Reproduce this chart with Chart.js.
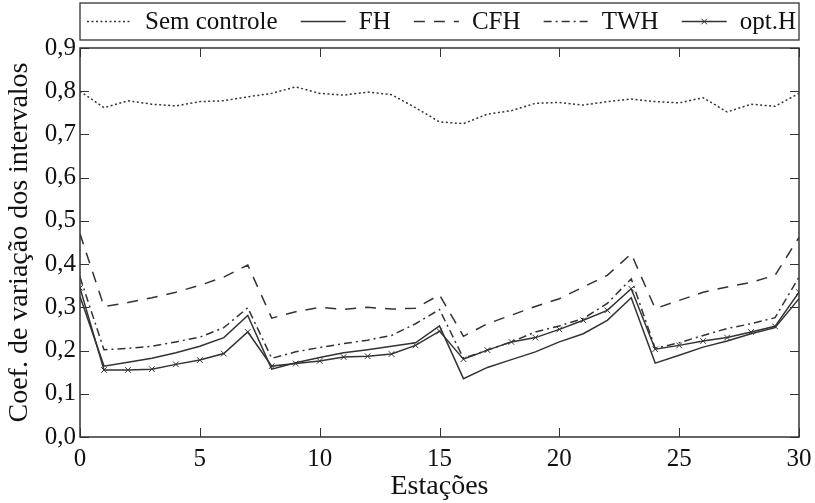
<!DOCTYPE html>
<html>
<head>
<meta charset="utf-8">
<script src="https://cdn.jsdelivr.net/npm/chart.js@4/dist/chart.umd.min.js"></script>
<style>
  html, body { margin: 0; padding: 0; background: #fff; }
  #wrap { width: 815px; height: 503px; position: relative; }
</style>
</head>
<body>
<div id="wrap"><canvas id="c" width="815" height="503"></canvas></div>
<script>
const stations = [0,1,2,3,4,5,6,7,8,9,10,11,12,13,14,15,16,17,18,19,20,21,22,23,24,25,26,27,28,29,30];
const semControle = [0.800,0.762,0.778,0.770,0.766,0.776,0.778,0.787,0.795,0.810,0.795,0.791,0.798,0.792,0.762,0.729,0.725,0.747,0.755,0.772,0.774,0.768,0.776,0.782,0.776,0.773,0.785,0.752,0.770,0.765,0.795];
const fh = [0.325,0.164,0.173,0.182,0.195,0.210,0.230,0.281,0.157,0.172,0.184,0.195,0.202,0.210,0.218,0.257,0.135,0.161,0.179,0.197,0.220,0.239,0.270,0.322,0.171,0.189,0.208,0.222,0.239,0.253,0.320];
const cfh = [0.470,0.302,0.311,0.322,0.335,0.351,0.370,0.398,0.275,0.290,0.300,0.295,0.300,0.296,0.298,0.329,0.233,0.262,0.282,0.302,0.320,0.347,0.374,0.424,0.297,0.316,0.335,0.347,0.358,0.374,0.462];
const twh = [0.370,0.202,0.205,0.210,0.220,0.231,0.253,0.299,0.182,0.197,0.207,0.216,0.224,0.235,0.262,0.295,0.182,0.201,0.220,0.243,0.257,0.274,0.309,0.366,0.205,0.218,0.235,0.251,0.262,0.276,0.370];
const optH = [0.345,0.155,0.155,0.157,0.168,0.178,0.193,0.243,0.164,0.170,0.176,0.185,0.187,0.192,0.212,0.245,0.180,0.201,0.220,0.230,0.249,0.270,0.293,0.343,0.203,0.212,0.222,0.230,0.243,0.256,0.335];
const seriesLabels = ['Sem controle','FH','CFH','TWH','opt.H'];
const xTicks = [0,5,10,15,20,25,30];
const yTicks = [0,0.1,0.2,0.3,0.4,0.5,0.6,0.7,0.8,0.9];

const INK = '#333333';
const FONT = "'Liberation Serif', 'DejaVu Serif', serif";

function pts(vals){ return stations.map((s,i)=>({x:s,y:vals[i]})); }

function ds(label, vals, dash, extra){
  return Object.assign({
    label, data: pts(vals), borderColor: INK, backgroundColor: INK,
    borderWidth: 1.5, borderDash: dash, pointRadius: 0, tension: 0, fill: false
  }, extra||{});
}

const datasets = [
  ds(seriesLabels[0], semControle, [2,2.5]),
  ds(seriesLabels[1], fh, []),
  ds(seriesLabels[2], cfh, [11,9]),
  ds(seriesLabels[3], twh, [8,4,2,4]),
  ds(seriesLabels[4], optH, [], {pointStyle:'crossRot', pointRadius:4, pointBorderWidth:1, pointBorderColor:INK})
];

const frame = {
  id: 'frame',
  afterDatasetsDraw(chart){
    const {ctx, chartArea:a, scales:{x,y}} = chart;
    ctx.save();
    ctx.strokeStyle = INK; ctx.lineWidth = 1.5; ctx.setLineDash([]);
    ctx.strokeRect(a.left, a.top, a.right-a.left, a.bottom-a.top);
    ctx.lineWidth = 1;
    const L = 9;
    ctx.beginPath();
    xTicks.forEach(v=>{
      const px = Math.round(x.getPixelForValue(v))+0.5;
      ctx.moveTo(px, a.bottom); ctx.lineTo(px, a.bottom-L);
      ctx.moveTo(px, a.top); ctx.lineTo(px, a.top+L);
    });
    yTicks.forEach(v=>{
      const py = Math.round(y.getPixelForValue(v))+0.5;
      ctx.moveTo(a.left, py); ctx.lineTo(a.left+L, py);
      ctx.moveTo(a.right, py); ctx.lineTo(a.right-L, py);
    });
    ctx.stroke();
    ctx.restore();
  },
  afterDraw(chart){
    const ctx = chart.ctx, a = chart.chartArea;
    ctx.save();
    const top = 3, bottom = 40;
    ctx.strokeStyle = INK; ctx.lineWidth = 1.3; ctx.setLineDash([]);
    ctx.strokeRect(a.left, top, a.right-a.left, bottom-top);
    ctx.font = "25px " + FONT;
    ctx.fillStyle = '#111';
    ctx.textBaseline = 'middle';
    const sampleW = 45, gapIn = 13;
    const startX = a.left + 7, endX = a.right - 3;
    const widths = chart.data.datasets.map(d=>ctx.measureText(d.label).width);
    let used = 0;
    widths.forEach(w=>{ used += sampleW + gapIn + w; });
    const gapOut = (endX - startX - used) / (widths.length - 1);
    let cx = startX;
    const cy = (top+bottom)/2;
    chart.data.datasets.forEach((d,i)=>{
      ctx.strokeStyle = INK; ctx.lineWidth = 1.5;
      ctx.setLineDash(d.borderDash||[]);
      ctx.beginPath(); ctx.moveTo(cx, cy); ctx.lineTo(cx+sampleW, cy); ctx.stroke();
      ctx.setLineDash([]);
      if (d.pointStyle === 'crossRot') {
        const mx = cx+sampleW/2, r = 2.8;
        ctx.lineWidth = 1;
        ctx.beginPath();
        ctx.moveTo(mx-r, cy-r); ctx.lineTo(mx+r, cy+r);
        ctx.moveTo(mx-r, cy+r); ctx.lineTo(mx+r, cy-r);
        ctx.stroke();
      }
      cx += sampleW + gapIn;
      ctx.fillText(d.label, cx, cy+1);
      cx += widths[i] + gapOut;
    });
    ctx.restore();
  }
};

new Chart(document.getElementById('c'), {
  type: 'line',
  data: { datasets },
  options: {
    responsive: false,
    animation: false,
    devicePixelRatio: 1,
    layout: { padding: { top: 48, right: 16, left: 0, bottom: 0 } },
    plugins: { legend: { display: false }, tooltip: { enabled: false } },
    scales: {
      x: {
        type: 'linear', min: 0, max: 30,
        grid: { display: false, drawTicks: false },
        border: { display: false },
        afterBuildTicks(s){ s.ticks = xTicks.map(v=>({value:v})); },
        afterFit(s){ s.height = 66; s.paddingRight = 0; s.paddingLeft = 0; },
        ticks: { color: '#111', font: { family: FONT, size: 25 }, padding: 7, maxRotation: 0,
                 callback: v => String(v) },
        title: { display: true, text: 'Estações', color: '#111', font: { family: FONT, size: 28 }, padding: { top: 0, bottom: 0 } }
      },
      y: {
        min: 0, max: 0.9,
        grid: { display: false, drawTicks: false },
        border: { display: false },
        afterBuildTicks(s){ s.ticks = yTicks.map(v=>({value:v})); },
        afterFit(s){ s.width = 80; s.paddingTop = 0; s.paddingBottom = 0; },
        ticks: { color: '#111', font: { family: FONT, size: 25 }, padding: 4,
                 callback: v => Number(v).toFixed(1).replace('.', ',') },
        title: { display: true, text: 'Coef. de variação dos intervalos', color: '#111', font: { family: FONT, size: 28 }, padding: { top: 3, bottom: 0 } }
      }
    }
  },
  plugins: [frame]
});
</script>
</body>
</html>
